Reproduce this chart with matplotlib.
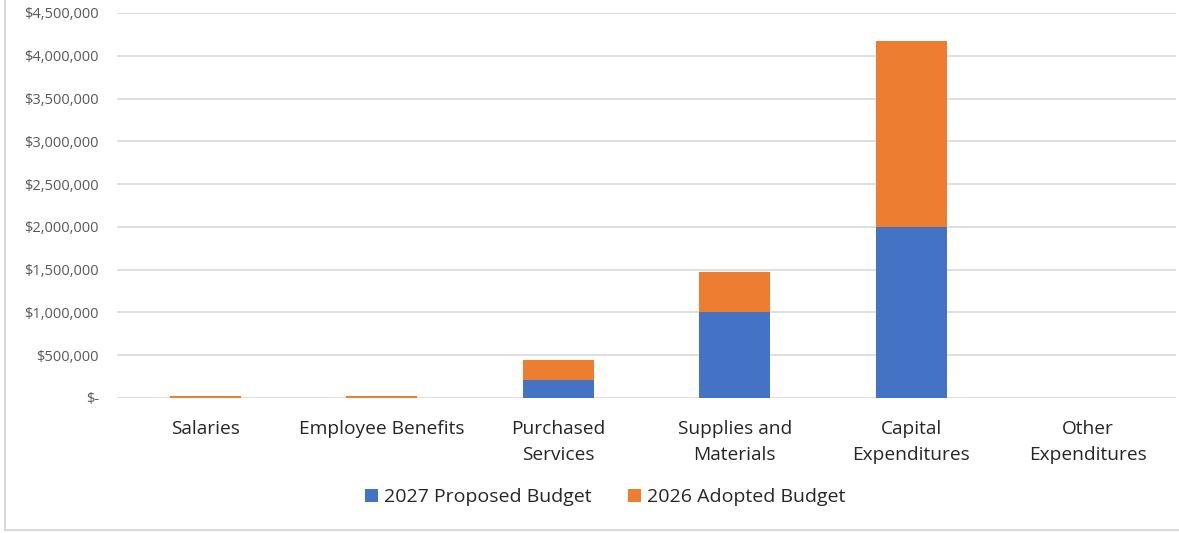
import numpy as np
import matplotlib
matplotlib.use('Agg')
import matplotlib.pyplot as plt
from matplotlib.lines import Line2D
from matplotlib.ticker import FuncFormatter

categories = ['Salaries', 'Employee Benefits', 'Purchased\nServices',
              'Supplies and\nMaterials', 'Capital\nExpenditures', 'Other\nExpenditures']
proposed_2027 = [0, 0, 210000, 1000000, 2000000, 0]
adopted_2026 = [25000, 25000, 235000, 475000, 2175000, 0]
series_names = ['2027 Proposed Budget', '2026 Adopted Budget']
y_ticks = np.arange(0, 4500001, 500000)


def money(v, pos):
    if v == 0:
        return '$-'
    return f'${v:,.0f}'


if __name__ == '__main__':
    plt.rcParams['font.family'] = ['Open Sans', 'DejaVu Sans']

    fig = plt.figure(figsize=(11.79, 5.33), dpi=100)
    ax = fig.add_axes([117 / 1179, 1 - 398 / 533, (1176 - 117) / 1179, (398 - 13) / 533])

    x = np.arange(len(categories))
    ax.bar(x, proposed_2027, width=0.4, color='#4472C4', label=series_names[0], zorder=3)
    ax.bar(x, adopted_2026, width=0.4, bottom=proposed_2027, color='#ED7D31',
           label=series_names[1], zorder=3)

    ax.set_xlim(-0.5, len(categories) - 0.5)
    ax.set_ylim(0, 4500000)
    ax.set_yticks(y_ticks)
    ax.yaxis.set_major_formatter(FuncFormatter(money))
    ax.set_xticks(x)
    ax.set_xticklabels(categories, fontsize=13.8, color='#262626', linespacing=1.55)

    ax.tick_params(axis='y', length=0, pad=13, labelsize=10.5, labelcolor='#595959')
    ax.tick_params(axis='x', length=0, pad=16)
    for s in ax.spines.values():
        s.set_visible(False)
    ax.grid(axis='y', color='#d9d9d9', linewidth=1.2, zorder=0)
    ax.set_axisbelow(True)

    fig.legend(loc='center', bbox_to_anchor=(605 / 1179, 1 - 497 / 533), ncol=2,
               frameon=False, fontsize=14, handlelength=0.65, handleheight=0.65,
               handletextpad=0.3, columnspacing=1.9, labelcolor='#262626')

    # light chart border (left and bottom edges fall inside the canvas)
    fig.add_artist(Line2D([5 / 1179, 5 / 1179], [3 / 533, 1.0], transform=fig.transFigure,
                          color='#d9d9d9', linewidth=1.5))
    fig.add_artist(Line2D([5 / 1179, 1.0], [3 / 533, 3 / 533], transform=fig.transFigure,
                          color='#d9d9d9', linewidth=1.5))

    fig.savefig('out.png', dpi=100)
